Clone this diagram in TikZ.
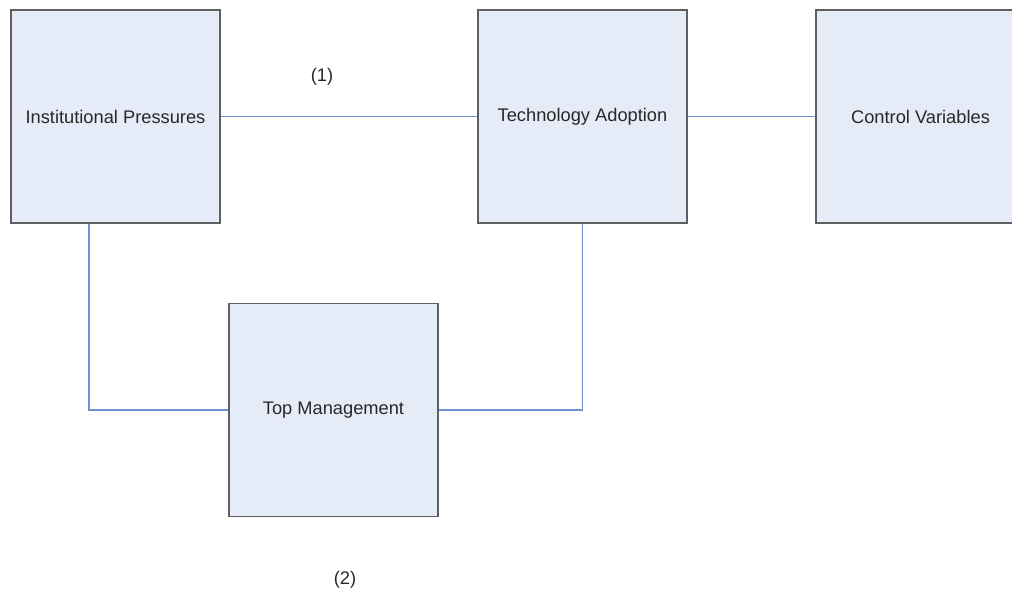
\documentclass[tikz,border=0pt]{standalone}
\usepackage{fontspec}
\setmainfont{Liberation Sans}
\usetikzlibrary{backgrounds}
\definecolor{boxfill}{RGB}{230,236,247}
\definecolor{boxline}{RGB}{95,95,95}
\definecolor{linkblue}{RGB}{110,145,212}
\definecolor{txt}{RGB}{40,40,40}
\begin{document}
\begin{tikzpicture}[font=\fontsize{13}{15}\selectfont, text=txt,
  box/.style={draw=boxline, line width=1.3pt, fill=boxfill, minimum width=5.225cm, minimum height=5.325cm, inner sep=0pt},
  link/.style={draw=linkblue, line width=0.9pt}]

\useasboundingbox (0,0) rectangle (25.3,14.75);
\clip (0,0) rectangle (25.3,14.75);
\node [box] (ip) at (2.8875,11.8375) {Institutional Pressures};
\node [box] (ta) at (14.5625,11.8375) {Technology Adoption};
\node [box] (cv) at (23.0125,11.8375) {Control Variables};
\node [box] (tm) at (8.3375,4.5) {Top Management};
\begin{scope}[on background layer]
\draw [link] (ip) -- (ta);
\draw [link] (ta) -- (cv);
\draw [link] ([xshift=-0.66cm]ip.south) |- (tm.west);
\draw [link] (tm.east) -| (ta.south);
\end{scope}
\node (l1) at (8.05,12.825) {(1)};
\node (l2) at (8.625,0.25) {(2)};
\end{tikzpicture}
\end{document}
